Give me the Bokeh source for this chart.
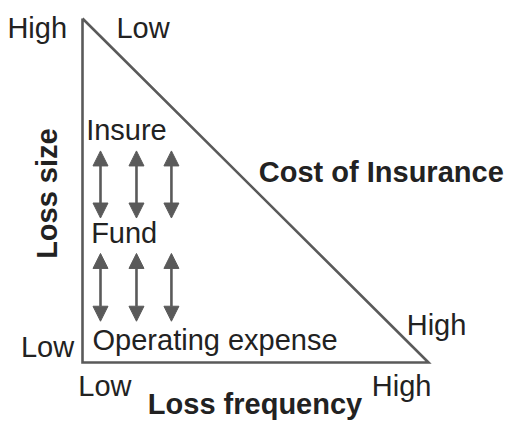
import math
from bokeh.plotting import figure
from bokeh.models import Range1d, ColumnDataSource, Arrow, NormalHead
from bokeh.core.properties import value
from bokeh.embed import file_html
from bokeh.resources import INLINE

# Axes of the diagram: loss frequency (x) and loss size (y), both 0 = Low .. 1 = High
tri_freq = [0.0, 0.0, 1.0, 0.0]
tri_size = [1.0, 0.0, 0.0, 1.0]

# Double-headed arrows: frequency positions and size spans (lower, upper)
arrow_freq = [0.052, 0.156, 0.257]
arrow_spans = [(0.42, 0.615), (0.12, 0.317)]

# Plain labels
lab_text = ["High", "Low", "Insure", "Fund", "Operating expense", "High", "Low", "Low", "High"]
lab_x = [-0.217, 0.098, 0.0105, 0.025, 0.029, 0.937, -0.178, -0.012, 0.836]
lab_y = [0.971, 0.971, 0.677, 0.375, 0.0667, 0.1103, 0.0463, -0.067, -0.067]

# Bold labels
bold_text = ["Cost of Insurance", "Loss frequency", "Loss size"]
bold_x = [0.5096, 0.4986, -0.104]
bold_y = [0.555, -0.121, 0.491]
bold_angle = [0.0, 0.0, math.pi / 2]
bold_align = ["left", "center", "center"]

p = figure(width=506, height=421, output_backend="svg", toolbar_location=None,
           x_range=Range1d(-0.2370, 1.2254), y_range=Range1d(-0.1715, 1.0523),
           min_border=0, min_border_left=0, min_border_right=0,
           min_border_top=0, min_border_bottom=0)
p.axis.visible = False
p.grid.visible = False
p.outline_line_color = None
p.background_fill_color = "white"
p.border_fill_color = "white"

GRAY = "#5a5a5a"
p.line(tri_freq, tri_size, line_color=GRAY, line_width=2.6, line_join="miter")

for fx in arrow_freq:
    for lo, hi in arrow_spans:
        p.add_layout(Arrow(
            x_start=fx, y_start=lo, x_end=fx, y_end=hi,
            line_color=GRAY, line_width=2.6,
            start=NormalHead(size=15, fill_color=GRAY, line_color=GRAY, line_width=1),
            end=NormalHead(size=15, fill_color=GRAY, line_color=GRAY, line_width=1)))

src = ColumnDataSource(dict(x=lab_x, y=lab_y, t=lab_text))
p.text("x", "y", text="t", source=src, text_font=value("Liberation Sans"),
       text_font_size="29px", text_color="#222222", text_align="left",
       text_baseline="alphabetic")

bsrc = ColumnDataSource(dict(x=bold_x, y=bold_y, t=bold_text, a=bold_angle, al=bold_align))
p.text("x", "y", text="t", angle="a", text_align="al", source=bsrc,
       text_font=value("Liberation Sans"), text_font_style="bold",
       text_font_size="29px", text_color="#222222", text_baseline="alphabetic")

open("out.html", "w").write(file_html(p, INLINE))
